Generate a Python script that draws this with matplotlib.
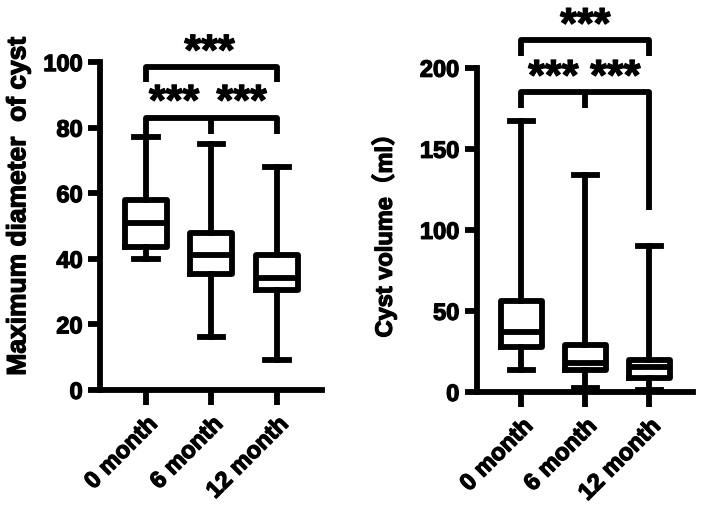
import matplotlib
matplotlib.use("Agg")
import matplotlib.pyplot as plt
import matplotlib.patheffects as pe

plt.rcParams['font.family'] = ['Liberation Sans', 'DejaVu Sans']
plt.rcParams['font.weight'] = 'bold'

groups = ["0 month", "6 month", "12 month"]

# diameter (mm): whislo, q1, med, q3, whishi
diam_lo = [40, 16, 9]
diam_q1 = [43.5, 35.5, 30.5]
diam_med = [51, 41, 34]
diam_q3 = [58, 48, 41]
diam_hi = [77, 75, 68]

# volume (ml)
vol_lo = [13.5, 2.5, 1]
vol_q1 = [28, 13.5, 8.5]
vol_med = [37, 18, 15.5]
vol_q3 = [56, 29, 20]
vol_hi = [167, 134, 90]

LW = 4.2
heavy = [pe.withStroke(linewidth=0.9, foreground='black')]


def stats(lo, q1, med, q3, hi):
    return [dict(whislo=a, q1=b, med=c, q3=d, whishi=e, fliers=[])
            for a, b, c, d, e in zip(lo, q1, med, q3, hi)]


def style(ax, ymax, step):
    ax.set_xlim(0.3, 3.68)
    ax.set_ylim(0, ymax)
    ax.set_yticks(range(0, ymax + 1, step))
    ax.set_xticks([1, 2, 3])
    ax.set_xticklabels(groups, rotation=45, ha='right', rotation_mode='anchor',
                       fontsize=17, fontweight='bold')
    for s in ['top', 'right']:
        ax.spines[s].set_visible(False)
    for s in ['left', 'bottom']:
        ax.spines[s].set_linewidth(LW)
    ax.tick_params(width=LW, length=9, labelsize=17)
    ax.tick_params(axis='x', length=11, pad=5)
    for t in ax.get_yticklabels() + ax.get_xticklabels():
        t.set_fontweight('bold')
        t.set_path_effects(heavy)


def box(ax, st):
    props = dict(color='black', linewidth=LW)
    ax.bxp(st, positions=[1, 2, 3], widths=0.64, showfliers=False,
           boxprops=props, whiskerprops=props, capprops=props,
           medianprops=props, capwidths=0.36)


def bracket(ax, x1, x2, y, drop, mid=None, right_drop=None):
    kw = dict(color='black', linewidth=LW, clip_on=False, solid_capstyle='butt')
    rd = drop if right_drop is None else right_drop
    ax.plot([x1, x1, x2, x2], [y - drop, y, y, y - rd], **kw)
    if mid is not None:
        ax.plot([mid, mid], [y, y - drop], **kw)


def stars(ax, x, y, size=31):
    ax.text(x, y, "***", ha='center', va='baseline', fontsize=size,
            fontweight='bold', clip_on=False, path_effects=heavy)


fig = plt.figure(figsize=(7.01, 5.13), dpi=100)
ax1 = fig.add_axes([0.1427, 0.240, 0.316, 0.639])
ax2 = fig.add_axes([0.680, 0.236, 0.308, 0.632])

box(ax1, stats(diam_lo, diam_q1, diam_med, diam_q3, diam_hi))
style(ax1, 100, 20)
ax1.set_ylabel("Maximum diameter  of cyst", fontsize=19, fontweight='bold',
               path_effects=heavy)
ax1.yaxis.set_label_coords(-0.315, 0.56)
bracket(ax1, 1, 3, 98.5, 4.5)
stars(ax1, 1.97, 99.3)
bracket(ax1, 1, 3, 83, 5, mid=2)
stars(ax1, 1.43, 84)
stars(ax1, 2.46, 84)

box(ax2, stats(vol_lo, vol_q1, vol_med, vol_q3, vol_hi))
style(ax2, 200, 50)
ax2.set_ylabel("Cyst volume\uff08ml\uff09", fontsize=17, fontweight='bold',
               family=['Liberation Sans', 'Noto Sans CJK SC'], path_effects=heavy)
ax2.yaxis.set_label_coords(-0.37, 0.5)
bracket(ax2, 1, 3, 217, 10)
stars(ax2, 2, 218.5)
bracket(ax2, 1, 3, 185, 10, mid=2, right_drop=73)
stars(ax2, 1.5, 186.5)
stars(ax2, 2.47, 186.5)

fig.savefig("out.png", dpi=100)
